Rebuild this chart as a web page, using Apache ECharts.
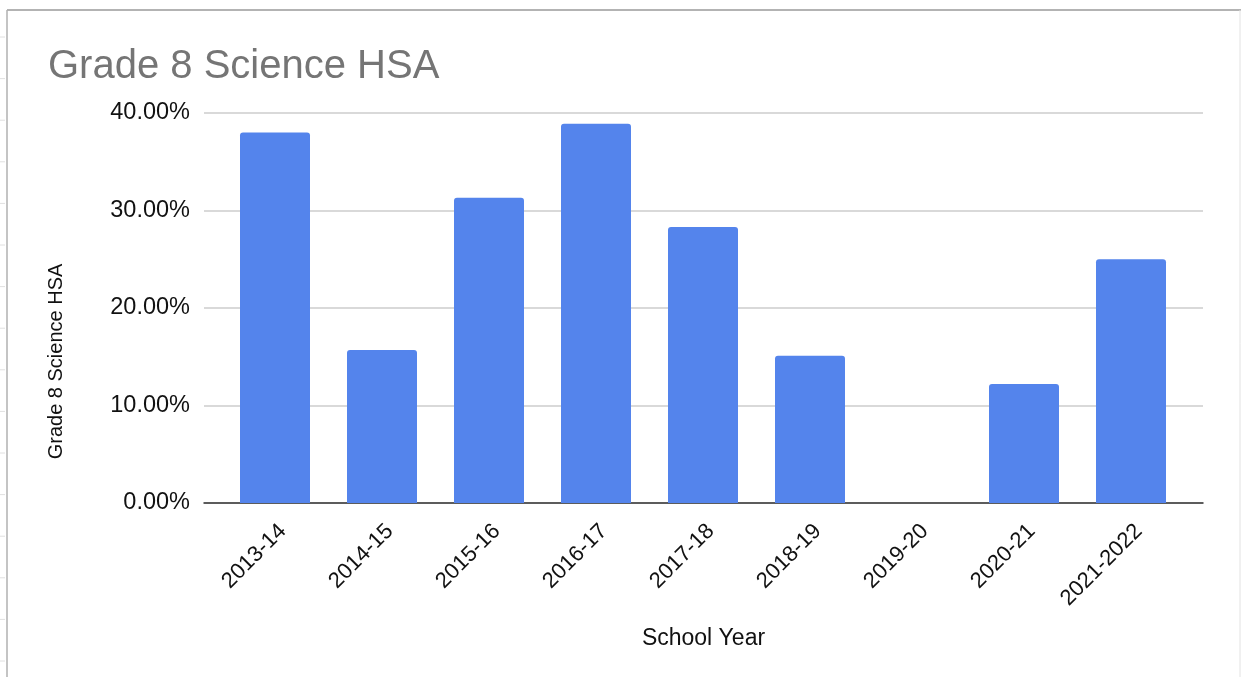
<!DOCTYPE html>
<html>
<head>
<meta charset="utf-8">
<script src="https://cdn.jsdelivr.net/npm/echarts@6/dist/echarts.min.js"></script>
<style>
  html, body { margin: 0; padding: 0; background: #fff; }
  #chart { width: 1241px; height: 677px; }
</style>
</head>
<body>
<div id="chart"></div>
<script>
// school years on the x axis
var schoolYears = ['2013-14', '2014-15', '2015-16', '2016-17', '2017-18', '2018-19', '2019-20', '2020-21', '2021-2022'];
// percent of grade 8 students (2019-20 has no bar)
var scienceHsa = [38.0, 15.7, 31.3, 38.9, 28.3, 15.1, null, 12.2, 25.0];
// y axis ticks
var yTicks = [0, 10, 20, 30, 40];

var myChart = echarts.init(document.getElementById('chart'));
var font = 'Liberation Sans, Arial, Helvetica, sans-serif';

// the faint sheet frame round the chart
var frame = [
    { type: 'line', shape: { x1: 7, y1: 10, x2: 1241, y2: 10 }, style: { stroke: '#9a9a9a', lineWidth: 1.5 } },
    { type: 'line', shape: { x1: 7, y1: 10, x2: 7, y2: 677 }, style: { stroke: '#b0b0b0', lineWidth: 1.5 } },
    { type: 'line', shape: { x1: 1240, y1: 10, x2: 1240, y2: 677 }, style: { stroke: '#e2e2e2', lineWidth: 1 } }
];
for (var t = 37; t < 677; t += 41.6) {
    frame.push({ type: 'line', shape: { x1: 0, y1: t, x2: 5, y2: t }, style: { stroke: '#e0e0e0', lineWidth: 1 } });
}

var option = {
    backgroundColor: '#fff',
    animation: false,
    title: {
        text: 'Grade 8 Science HSA',
        left: 43,
        top: 42,
        textStyle: { color: '#757575', fontSize: 40, fontWeight: 'normal', fontFamily: font }
    },
    graphic: frame,
    grid: [
        // grid 0: gridlines, y labels and baseline
        { left: 204, right: 38, top: 113, bottom: 174 },
        // grid 1: the bars
        { left: 221.5, right: 56.5, top: 113, bottom: 174 }
    ],
    xAxis: [
        {
            gridIndex: 0,
            type: 'value',
            min: 0,
            max: 1,
            name: 'School Year',
            nameLocation: 'middle',
            nameGap: 124,
            nameTextStyle: { color: '#111', fontSize: 23, fontFamily: font },
            axisLine: { show: true, onZero: false, lineStyle: { color: '#333', width: 1.5 } },
            axisTick: { show: false },
            axisLabel: { show: false },
            splitLine: { show: false }
        },
        {
            gridIndex: 1,
            type: 'category',
            data: schoolYears,
            axisLine: { show: false },
            axisTick: { show: false },
            axisLabel: {
                rotate: 45,
                margin: 17,
                verticalAlign: 'top',
                color: '#111',
                fontSize: 22,
                fontFamily: font,
                interval: 0
            }
        }
    ],
    yAxis: [
        {
            gridIndex: 0,
            type: 'value',
            min: yTicks[0],
            max: yTicks[yTicks.length - 1],
            interval: 10,
            name: 'Grade 8 Science HSA',
            nameLocation: 'middle',
            nameGap: 138,
            nameTextStyle: { color: '#111', fontSize: 20, fontFamily: font, padding: [0, 107, 0, 0] },
            axisLine: { show: false },
            axisTick: { show: false },
            axisLabel: {
                margin: 14,
                color: '#111',
                fontSize: 23.5,
                fontFamily: font,
                formatter: function (v) { return v.toFixed(2) + '%'; }
            },
            splitLine: { lineStyle: { color: '#cccccc', width: 1.5 } }
        },
        {
            gridIndex: 1,
            type: 'value',
            min: yTicks[0],
            max: yTicks[yTicks.length - 1],
            interval: 10,
            axisLine: { show: false },
            axisTick: { show: false },
            axisLabel: { show: false },
            splitLine: { show: false }
        }
    ],
    series: [
        {
            name: 'Grade 8 Science HSA',
            type: 'bar',
            xAxisIndex: 1,
            yAxisIndex: 1,
            barWidth: 70,
            itemStyle: {
                color: '#5484ec',
                borderRadius: [3, 3, 0, 0]
            },
            data: scienceHsa
        }
    ]
};

myChart.setOption(option);
</script>
</body>
</html>
